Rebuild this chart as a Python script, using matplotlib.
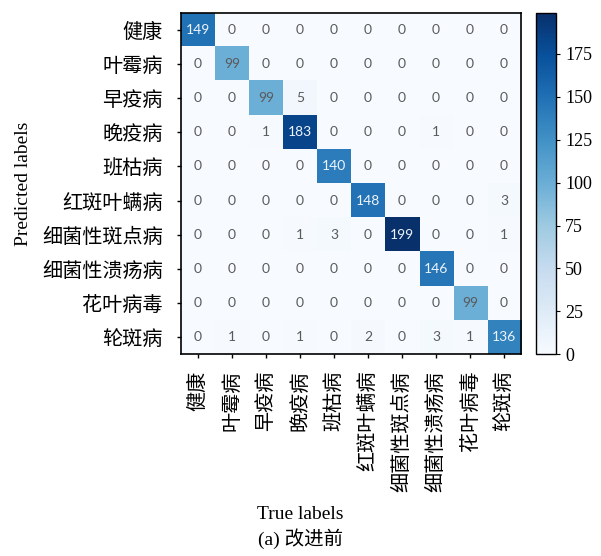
import matplotlib
matplotlib.use("Agg")
import matplotlib.pyplot as plt
import numpy as np

plt.rcParams['font.family'] = ['Liberation Serif', 'Noto Sans CJK SC', 'DejaVu Sans']

classes = ['健康', '叶霉病', '早疫病', '晚疫病', '班枯病', '红斑叶螨病',
           '细菌性斑点病', '细菌性溃疡病', '花叶病毒', '轮斑病']

# rows: predicted label, columns: true label
cm = np.array([
    [149, 0, 0, 0, 0, 0, 0, 0, 0, 0],
    [0, 99, 0, 0, 0, 0, 0, 0, 0, 0],
    [0, 0, 99, 5, 0, 0, 0, 0, 0, 0],
    [0, 0, 1, 183, 0, 0, 0, 1, 0, 0],
    [0, 0, 0, 0, 140, 0, 0, 0, 0, 0],
    [0, 0, 0, 0, 0, 148, 0, 0, 0, 3],
    [0, 0, 0, 1, 3, 0, 199, 0, 0, 1],
    [0, 0, 0, 0, 0, 0, 0, 146, 0, 0],
    [0, 0, 0, 0, 0, 0, 0, 0, 99, 0],
    [0, 1, 0, 1, 0, 2, 0, 3, 1, 136],
])
cbar_ticks = [0, 25, 50, 75, 100, 125, 150, 175]

fig = plt.figure(figsize=(6.01, 5.56), dpi=100)
ax = fig.add_axes([0.301, 0.363, 0.566, 0.614])
cax = fig.add_axes([0.892, 0.363, 0.033, 0.614])

vmax = cm.max()
im = ax.imshow(cm, cmap='Blues', vmin=0, vmax=vmax, aspect='auto')

n = len(classes)
for i in range(n):
    for j in range(n):
        v = cm[i, j]
        color = '#eef4fa' if v > 0.6 * vmax else '#5a5a5a'
        ax.text(j, i, str(v), ha='center', va='center', fontsize=10,
                color=color, family=['Lato', 'DejaVu Sans'])

cjk = ['Noto Sans CJK SC', 'DejaVu Sans']
ax.set_xticks(range(n))
ax.set_yticks(range(n))
ax.set_xticklabels(classes, rotation=90, fontsize=14.5, family=cjk)
ax.set_yticklabels(classes, fontsize=14.5, family=cjk)
ax.tick_params(axis='y', length=3, width=1, pad=10)
ax.tick_params(axis='x', length=3, width=1, pad=9)
for s in ax.spines.values():
    s.set_linewidth(1.2)

ax.set_ylabel('Predicted labels', fontsize=14, labelpad=7)
fig.text(0.5, 0.066, 'True labels', ha='center', fontsize=14)
fig.text(0.5, 0.019, '(a) 改进前', ha='center', fontsize=14)

cb = fig.colorbar(im, cax=cax, ticks=cbar_ticks)
cb.ax.tick_params(labelsize=13, length=3)
cb.outline.set_linewidth(1.0)

fig.savefig('out.png', dpi=100)
